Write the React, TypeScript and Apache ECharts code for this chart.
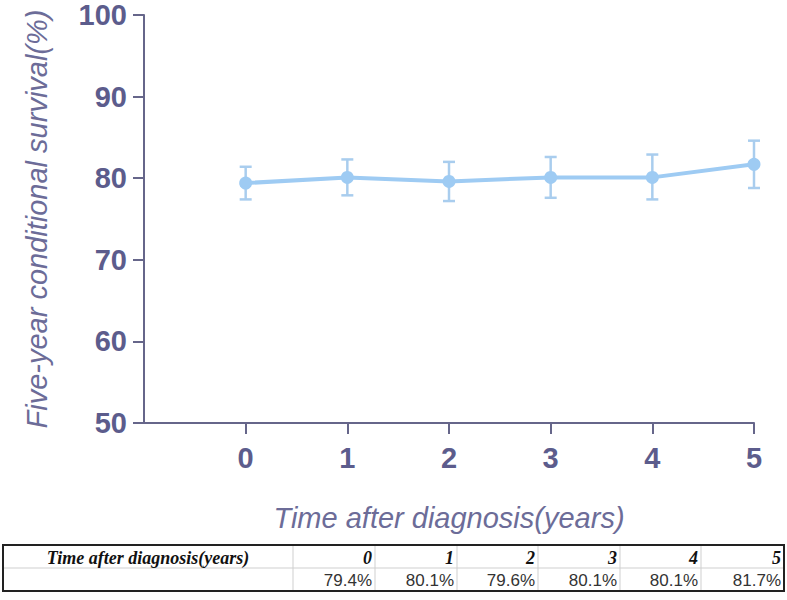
import React, { useEffect, useRef } from "react";
import * as echarts from "echarts";

const years = [0, 1, 2, 3, 4, 5];
const survival = [79.4, 80.1, 79.6, 80.1, 80.1, 81.7];
const ciLower = [77.4, 77.9, 77.2, 77.6, 77.4, 78.8];
const ciUpper = [81.4, 82.3, 82.0, 82.6, 82.9, 84.6];
const xAxisTitle = "Time after diagnosis(years)";
const yAxisTitle = "Five-year conditional survival(%)";
const tableHeaderLabel = "Time after diagnosis(years)";
const tableValueLabels = survival.map((v) => v.toFixed(1) + "%");

const AXIS_COLOR = "#66668a";
const LABEL_COLOR = "#5c5c8c";
const TITLE_COLOR = "#6c6c98";
const LINE_COLOR = "#9ecbf3";
const ERR_COLOR = "#a9cdee";

function buildTable() {
  const top = 545;
  const mid = 568;
  const bottom = 591;
  const left = 3;
  const right = 784;
  const cols = [293, 375, 457, 538, 620, 701];
  const els: any[] = [];
  els.push({
    type: "line",
    shape: { x1: left, y1: mid, x2: right, y2: mid },
    style: { stroke: "#cfcfcf", lineWidth: 1 },
    silent: true,
  });
  cols.forEach((cx) => {
    els.push({
      type: "line",
      shape: { x1: cx, y1: top, x2: cx, y2: bottom },
      style: { stroke: "#cfcfcf", lineWidth: 1 },
      silent: true,
    });
  });
  els.push({
    type: "rect",
    shape: { x: left, y: top, width: right - left, height: bottom - top },
    style: { fill: "none", stroke: "#222", lineWidth: 2 },
    silent: true,
  });
  els.push({
    type: "text",
    style: {
      x: (left + cols[0]) / 2,
      y: (top + mid) / 2 + 1,
      text: tableHeaderLabel,
      align: "center",
      verticalAlign: "middle",
      fontFamily: "'Liberation Serif', 'Times New Roman', serif",
      fontStyle: "italic",
      fontWeight: "bold",
      fontSize: 18,
      fill: "#111",
    },
  });
  const rights = [...cols.slice(1), right];
  years.forEach((yv, i) => {
    els.push({
      type: "text",
      style: {
        x: rights[i] - 3,
        y: (top + mid) / 2 + 1,
        text: String(yv),
        align: "right",
        verticalAlign: "middle",
        fontFamily: "'Liberation Serif', 'Times New Roman', serif",
        fontStyle: "italic",
        fontWeight: "bold",
        fontSize: 18,
        fill: "#111",
      },
    });
    els.push({
      type: "text",
      style: {
        x: rights[i] - 3,
        y: (mid + bottom) / 2 + 1,
        text: tableValueLabels[i],
        align: "right",
        verticalAlign: "middle",
        fontFamily: "'Liberation Sans', Arial, sans-serif",
        fontSize: 17,
        fill: "#333",
      },
    });
  });
  return els;
}

export default function App() {
  const ref = useRef<HTMLDivElement>(null);
  useEffect(() => {
    if (!ref.current) return;
    const chart = echarts.init(ref.current, null, { renderer: "svg" });
    const option: any = {
      animation: false,
      backgroundColor: "#ffffff",
      grid: { left: 144, right: 33, top: 15, bottom: 177, containLabel: false },
      xAxis: {
        type: "value",
        min: -1,
        max: 5,
        interval: 1,
        name: xAxisTitle,
        nameLocation: "middle",
        nameGap: 80,
        nameTextStyle: {
          fontFamily: "'Liberation Sans', Arial, sans-serif",
          fontStyle: "italic",
          fontSize: 29,
          color: TITLE_COLOR,
        },
        axisLine: { show: true, onZero: false, lineStyle: { color: AXIS_COLOR, width: 2 } },
        axisTick: {
          show: true,
          length: 11,
          customValues: years,
          lineStyle: { color: AXIS_COLOR, width: 2 },
        },
        axisLabel: {
          customValues: years,
          margin: 20,
          fontFamily: "'Liberation Sans', Arial, sans-serif",
          fontWeight: "bold",
          fontSize: 29,
          color: LABEL_COLOR,
        },
        splitLine: { show: false },
      },
      yAxis: {
        type: "value",
        min: 50,
        max: 100,
        interval: 10,
        name: yAxisTitle,
        nameLocation: "middle",
        nameGap: 93,
        nameTextStyle: {
          fontFamily: "'Liberation Sans', Arial, sans-serif",
          fontStyle: "italic",
          fontSize: 29,
          color: TITLE_COLOR,
        },
        axisLine: { show: true, onZero: false, lineStyle: { color: AXIS_COLOR, width: 2 } },
        axisTick: { show: true, length: 11, lineStyle: { color: AXIS_COLOR, width: 2 } },
        axisLabel: {
          margin: 17,
          fontFamily: "'Liberation Sans', Arial, sans-serif",
          fontWeight: "bold",
          fontSize: 29,
          color: LABEL_COLOR,
        },
        splitLine: { show: false },
      },
      series: [
        {
          type: "custom",
          z: 2,
          silent: true,
          data: years.map((x, i) => [x, ciLower[i], ciUpper[i]]),
          encode: { x: 0, y: [1, 2] },
          renderItem: (params: any, api: any) => {
            const x = api.value(0);
            const pLo = api.coord([x, api.value(1)]);
            const pHi = api.coord([x, api.value(2)]);
            const hw = 6;
            const st = { stroke: ERR_COLOR, lineWidth: 2.5 };
            return {
              type: "group",
              children: [
                { type: "line", shape: { x1: pLo[0], y1: pLo[1], x2: pHi[0], y2: pHi[1] }, style: st },
                { type: "line", shape: { x1: pLo[0] - hw, y1: pLo[1], x2: pLo[0] + hw, y2: pLo[1] }, style: st },
                { type: "line", shape: { x1: pHi[0] - hw, y1: pHi[1], x2: pHi[0] + hw, y2: pHi[1] }, style: st },
              ],
            };
          },
        },
        {
          type: "line",
          z: 3,
          data: years.map((x, i) => [x, survival[i]]),
          symbol: "circle",
          symbolSize: 13,
          lineStyle: { color: LINE_COLOR, width: 4 },
          itemStyle: { color: LINE_COLOR },
        },
      ],
      graphic: buildTable(),
    };
    chart.setOption(option);
    return () => chart.dispose();
  }, []);
  return (
    <div
      ref={ref}
      style={{ position: "fixed", left: 0, top: 0, width: 787, height: 600, background: "#fff" }}
    />
  );
}
